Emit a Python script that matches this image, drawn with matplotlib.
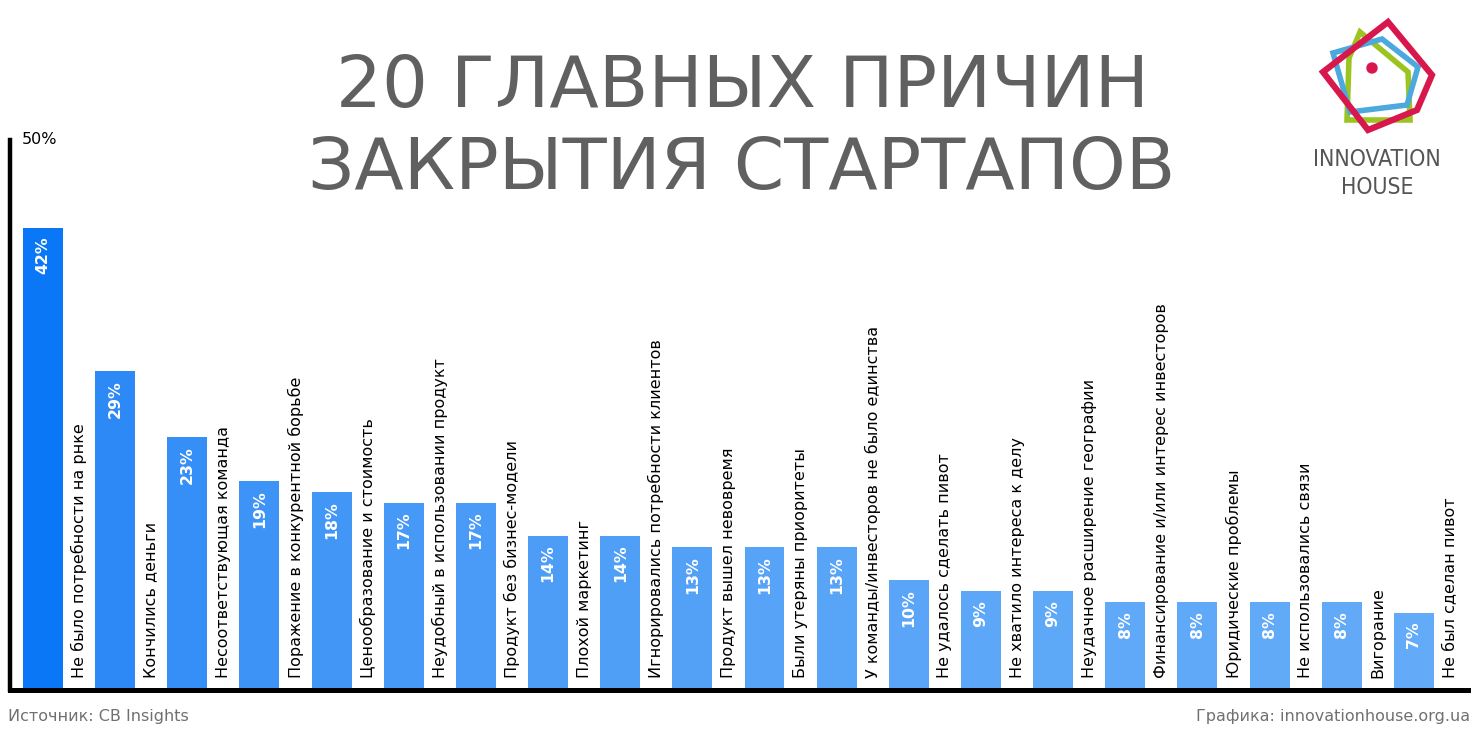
import matplotlib
matplotlib.use("Agg")
import matplotlib.pyplot as plt
from matplotlib.patches import Polygon, Circle
from matplotlib.colors import LinearSegmentedColormap
import numpy as np

categories = [
    "Не было потребности на рнке",
    "Кончились деньги",
    "Несоответствующая команда",
    "Поражение в конкурентной борьбе",
    "Ценообразование и стоимость",
    "Неудобный в использовании продукт",
    "Продукт без бизнес-модели",
    "Плохой маркетинг",
    "Игнорировались потребности клиентов",
    "Продукт вышел невовремя",
    "Были утеряны приоритеты",
    "У команды/инвесторов не было единства",
    "Не удалось сделать пивот",
    "Не хватило интереса к делу",
    "Неудачное расширение географии",
    "Финансирование и/или интерес инвесторов",
    "Юридические проблемы",
    "Не использовались связи",
    "Вигорание",
    "Не был сделан пивот",
]
values = [42, 29, 23, 19, 18, 17, 17, 14, 14, 13, 13, 13, 10, 9, 9, 8, 8, 8, 8, 7]
value_labels = [f"{v}%" for v in values]
y_max = 50
y_max_label = "50%"

title_line1 = "20 ГЛАВНЫХ ПРИЧИН"
title_line2 = "ЗАКРЫТИЯ СТАРТАПОВ"
source_text = "Источник: CB Insights"
credit_text = "Графика: innovationhouse.org.ua"

W, H = 1480, 740
fig = plt.figure(figsize=(W / 100, H / 100), dpi=100)
fig.patch.set_facecolor("white")

ax_left, ax_right = 10, 1468
ax_top, ax_bottom = 140, 690
ax = fig.add_axes([ax_left / W, (H - ax_bottom) / H,
                   (ax_right - ax_left) / W, (ax_bottom - ax_top) / H])

cmap = LinearSegmentedColormap.from_list(
    "blues", ["#0A78F6", "#2C89F6", "#3E94F6", "#4A9BF7", "#55A2F7", "#5EA8F8", "#63ABF8"])
n = len(values)
x = np.arange(n)
colors = [cmap(min(1.0, (i / (n - 1)) ** 0.6)) for i in range(n)]

ax.bar(x, values, width=0.554, color=colors, zorder=2)

for i, (v, lab, cat) in enumerate(zip(values, value_labels, categories)):
    ax.text(i, v - 0.8, lab, rotation=90, ha="center", va="top",
            color="white", fontsize=11.3, fontweight="bold", zorder=3)
    ax.text(i + 0.5, 1.1, cat, rotation=90, ha="center", va="bottom",
            color="black", fontsize=11.5, zorder=3)

ax.set_xlim(-0.457, 19.75)
ax.set_ylim(0, y_max)
ax.set_xticks([])
ax.set_yticks([])
for s in ["top", "right"]:
    ax.spines[s].set_visible(False)
ax.spines["left"].set_linewidth(3.2)
ax.spines["bottom"].set_linewidth(3.6)
ax.spines["left"].set_color("black")
ax.spines["bottom"].set_color("black")
ax.set_facecolor("none")

ax.text(-0.30, y_max, y_max_label, ha="left", va="center", fontsize=11.5,
        color="black", clip_on=False)

# overlay for decorations in pixel coords
ov = fig.add_axes([0, 0, 1, 1], zorder=-1)
ov.set_xlim(0, W)
ov.set_ylim(H, 0)
ov.axis("off")

title_color = "#606060"
ov.text(742, 88, title_line1, ha="center", va="center", fontsize=52,
        color=title_color)
ov.text(742, 170, title_line2, ha="center", va="center", fontsize=52,
        color=title_color)

ov.text(8, 717, source_text, ha="left", va="center", fontsize=11.5, color="#707070")
ov.text(1470, 716, credit_text, ha="right", va="center", fontsize=11.5, color="#707070")

# logo
green = [(1347, 120), (1349, 58), (1360, 32), (1408, 72), (1410, 120)]
blue = [(1333, 53), (1382, 39), (1418, 67), (1407, 105), (1350, 112)]
red = [(1388, 22), (1432, 75), (1417, 110), (1368, 130), (1323, 72)]
ov.add_patch(Polygon(green, closed=True, fill=False, edgecolor="#9CC420", lw=4, joinstyle="miter"))
ov.add_patch(Polygon(blue, closed=True, fill=False, edgecolor="#4BA9DE", lw=4, joinstyle="miter"))
ov.add_patch(Polygon(red, closed=True, fill=False, edgecolor="#D8174D", lw=4.5, joinstyle="miter"))
ov.add_patch(Circle((1372, 68), 5, color="#D8174D"))
ov.text(1377, 160, "INNOVATION", ha="center", va="center", fontsize=16.5,
        color="#555555", family="DejaVu Sans", fontstretch="condensed", fontweight="light")
ov.text(1377, 187, "HOUSE", ha="center", va="center", fontsize=16.5,
        color="#555555", family="DejaVu Sans", fontstretch="condensed", fontweight="light")

fig.savefig("out.png", dpi=100, facecolor="white")
